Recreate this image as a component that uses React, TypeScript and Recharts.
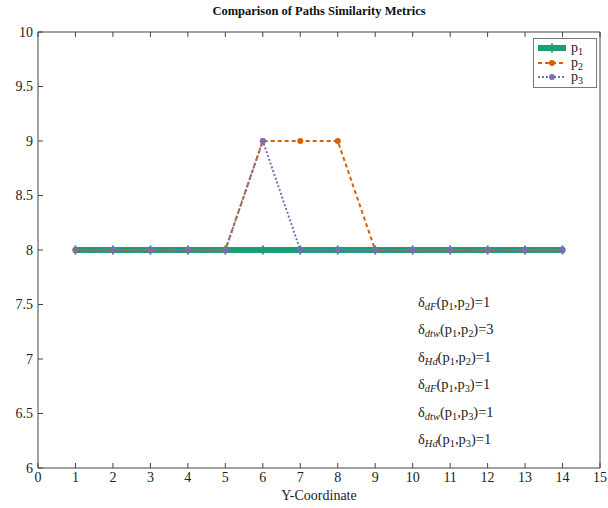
import React from 'react';
import {
  LineChart,
  Line,
  XAxis,
  YAxis,
} from 'recharts';

const xValues = [1, 2, 3, 4, 5, 6, 7, 8, 9, 10, 11, 12, 13, 14];
const p1Values = [8, 8, 8, 8, 8, 8, 8, 8, 8, 8, 8, 8, 8, 8];
const p2Values = [8, 8, 8, 8, 8, 9, 9, 9, 8, 8, 8, 8, 8, 8];
const p3Values = [8, 8, 8, 8, 8, 9, 8, 8, 8, 8, 8, 8, 8, 8];

const xTicks = [0, 1, 2, 3, 4, 5, 6, 7, 8, 9, 10, 11, 12, 13, 14, 15];
const yTicks = [6, 6.5, 7, 7.5, 8, 8.5, 9, 9.5, 10];

// metric name, second path index, value
const metrics: [string, number, number][] = [
  ['dF', 2, 1],
  ['dtw', 2, 3],
  ['Hd', 2, 1],
  ['dF', 3, 1],
  ['dtw', 3, 1],
  ['Hd', 3, 1],
];

const data = xValues.map((x, i) => ({
  x,
  p1: p1Values[i],
  p2: p2Values[i],
  p3: p3Values[i],
}));

const FONT = '"Liberation Serif", "DejaVu Serif", serif';
const GREEN = '#1b9e77';
const ORANGE = '#d95f02';
const PURPLE = '#7570b3';
const AXIS = '#444';

const tickStyle = { fontSize: 14, fill: '#222', fontFamily: FONT };

const P1Dot = (props: any) => {
  const { cx, cy, index } = props;
  return <rect key={`p1-${index}`} x={cx - 1} y={cy - 4.5} width={2} height={9} fill={GREEN} />;
};

const Sub = ({ children }: { children: React.ReactNode }) => (
  <sub style={{ fontSize: '0.72em', verticalAlign: '-0.25em', lineHeight: 0 }}>{children}</sub>
);

const LegendBox = () => {
  const rows = [
    { n: 1, color: GREEN, width: 6, dash: undefined as string | undefined, marker: 'bar' },
    { n: 2, color: ORANGE, width: 2, dash: '4 3', marker: 'dot' },
    { n: 3, color: PURPLE, width: 2, dash: '2 2', marker: 'dot' },
  ];
  return (
    <div
      style={{
        position: 'absolute',
        top: 38,
        left: 533,
        width: 56,
        border: '1px solid #777',
        background: '#fff',
        padding: '2px 3px 2px 3px',
        fontFamily: FONT,
        fontSize: 14,
        color: '#222',
      }}
    >
      {rows.map((r) => (
        <div key={r.n} style={{ display: 'flex', alignItems: 'center', height: 14.5 }}>
          <svg width={30} height={12} style={{ marginRight: 4 }}>
            <line x1={1} x2={29} y1={6} y2={6} stroke={r.color} strokeWidth={r.width} strokeDasharray={r.dash} />
            {r.marker === 'bar' ? (
              <rect x={14} y={1.5} width={2} height={9} fill={r.color} />
            ) : (
              <circle cx={15} cy={6} r={3} fill={r.color} />
            )}
          </svg>
          <span>
            p<Sub>{r.n}</Sub>
          </span>
        </div>
      ))}
    </div>
  );
};

export default function App() {
  return (
    <div style={{ position: 'absolute', left: 0, top: 0, width: 608, height: 508, background: '#fff' }}>
      <div
        style={{
          position: 'absolute',
          top: 4,
          left: 38,
          width: 562,
          textAlign: 'center',
          fontFamily: FONT,
          fontWeight: 'bold',
          fontSize: 12.5,
          color: '#111',
        }}
      >
        Comparison of Paths Similarity Metrics
      </div>
      <LineChart width={608} height={508} data={data} margin={{ top: 31, right: 7, bottom: 0, left: 0 }}>
        <XAxis
          dataKey="x"
          type="number"
          domain={[0, 15]}
          ticks={xTicks}
          interval={0}
          height={40}
          tickSize={-5}
          tickMargin={9}
          tick={tickStyle}
          stroke={AXIS}
          label={{ value: 'Y-Coordinate', position: 'insideBottom', offset: 8, style: { fontSize: 14, fill: '#222', fontFamily: FONT } }}
        />
        <XAxis
          xAxisId="top"
          orientation="top"
          dataKey="x"
          type="number"
          domain={[0, 15]}
          ticks={xTicks}
          interval={0}
          height={1}
          tickSize={-5}
          tickFormatter={() => ''}
          stroke={AXIS}
        />
        <YAxis
          type="number"
          domain={[6, 10]}
          ticks={yTicks}
          interval={0}
          width={38}
          tickSize={-5}
          tickMargin={10}
          tick={tickStyle}
          stroke={AXIS}
        />
        <YAxis
          yAxisId="right"
          orientation="right"
          type="number"
          domain={[6, 10]}
          ticks={yTicks}
          interval={0}
          width={1}
          tickSize={-5}
          tickFormatter={() => ''}
          stroke={AXIS}
        />
        <Line
          dataKey="p1"
          stroke={GREEN}
          strokeWidth={6}
          dot={P1Dot}
          activeDot={false}
          isAnimationActive={false}
        />
        <Line
          dataKey="p2"
          stroke={ORANGE}
          strokeWidth={2}
          strokeDasharray="4 3"
          dot={{ r: 3, fill: ORANGE, stroke: ORANGE, strokeWidth: 0, strokeDasharray: '' }}
          activeDot={false}
          isAnimationActive={false}
        />
        <Line
          dataKey="p3"
          stroke={PURPLE}
          strokeWidth={2}
          strokeDasharray="2 2"
          dot={{ r: 3, fill: PURPLE, stroke: PURPLE, strokeWidth: 0, strokeDasharray: '' }}
          activeDot={false}
          isAnimationActive={false}
        />
      </LineChart>
      <LegendBox />
      <div style={{ position: 'absolute', left: 418, top: 294, fontFamily: FONT, fontSize: 14.5, color: '#222' }}>
        {metrics.map(([name, other, value], i) => (
          <div key={i} style={{ height: 27.4, whiteSpace: 'nowrap' }}>
            δ<Sub><i>{name}</i></Sub>(p<Sub>1</Sub>,p<Sub>{other}</Sub>)={value}
          </div>
        ))}
      </div>
    </div>
  );
}
